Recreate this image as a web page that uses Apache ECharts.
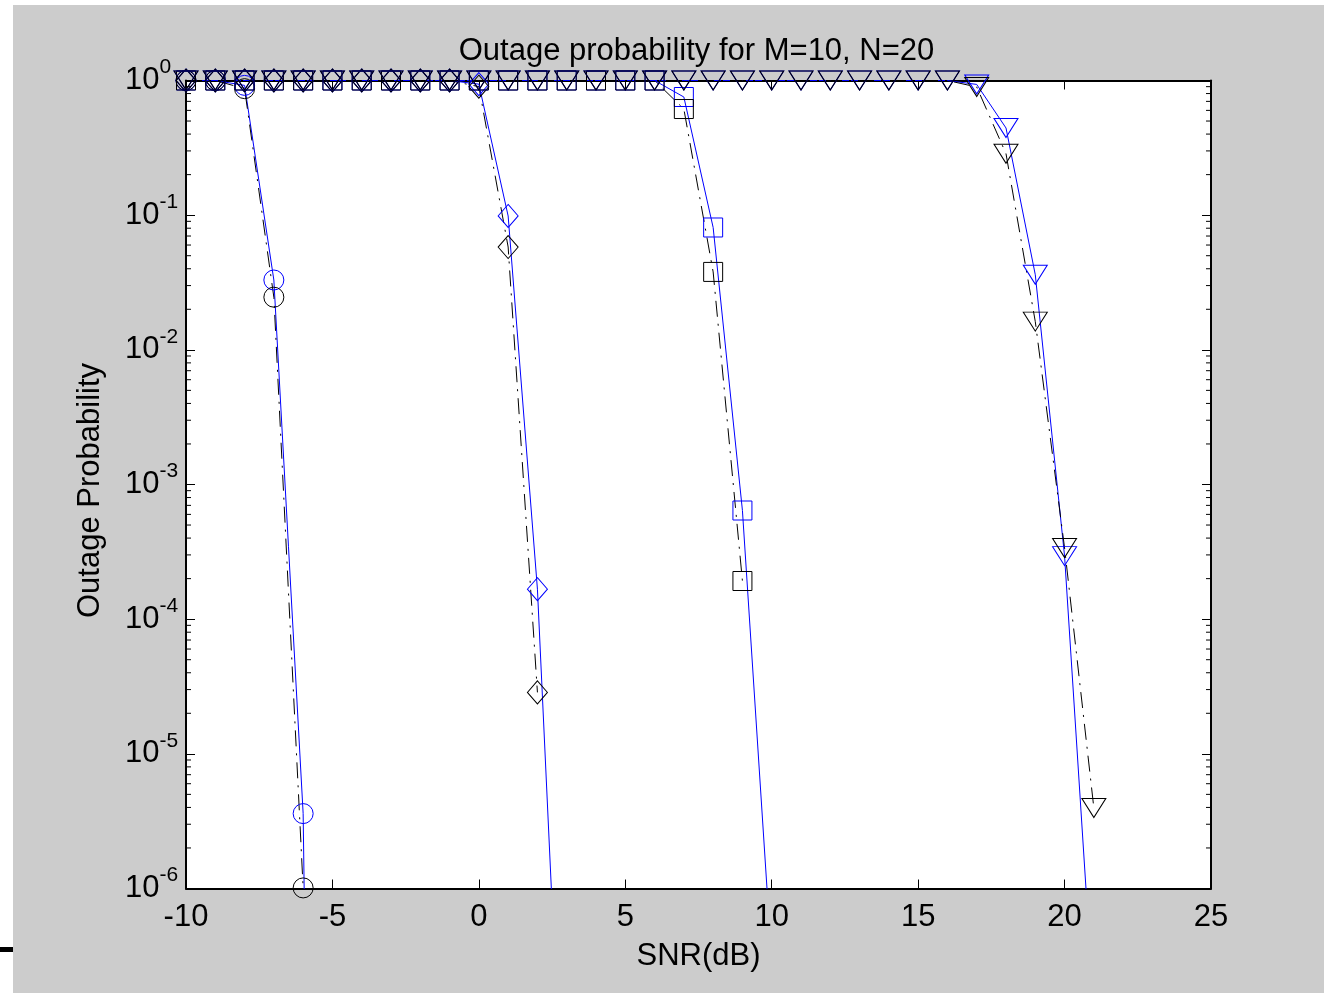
<!DOCTYPE html>
<html><head><meta charset="utf-8">
<script src="https://cdn.jsdelivr.net/npm/echarts@6/dist/echarts.min.js"></script>
<style>
html,body{margin:0;padding:0;background:#fff;width:1324px;height:993px;overflow:hidden;}
#chart{position:absolute;left:13px;top:5px;width:1311px;height:988px;background:#cccccc;}
#mark{position:absolute;left:0;top:947px;width:13px;height:5px;background:#000;}
</style></head><body>
<div id="chart"></div><div id="mark"></div>
<script>
// ---------- data ----------
const titleText = 'Outage probability for M=10, N=20';
const xName = 'SNR(dB)';
const yName = 'Outage Probability';
const xMin = -10, xMax = 25, xStep = 5;
const yMin = 1e-6, yMax = 1;
const snr = [-10,-9,-8,-7,-6,-5,-4,-3,-2,-1,0,1,2,3,4,5,6,7,8,9,10,11,12,13,14,15,16,17,18,19,20,21];

// circle pair
const circleBlue  = [1, 1, 0.92, 0.033, 3.6e-6, 4e-22];
const circleBlack = [1, 1, 0.87, 0.0246, 1.01e-6];
// diamond pair
const diamondBlue  = [1,1,1,1,1,1,1,1,1,1, 0.94, 0.0986, 1.67e-4, 3.5e-9];
const diamondBlack = [1,1,1,1,1,1,1,1,1,1, 0.90, 0.058, 2.86e-5];
// square pair
const squareBlue  = [1,1,1,1,1,1,1,1,1,1,1,1,1,1,1,1,1, 0.754, 0.081, 6.41e-4, 2.9e-7];
const squareBlack = [1,1,1,1,1,1,1,1,1,1,1,1,1,1,1,1,1, 0.614, 0.0379, 1.92e-4];
// triangle pair
const triBlue  = [1,1,1,1,1,1,1,1,1,1,1,1,1,1,1,1,1,1,1,1,1,1,1,1,1,1,1, 0.935, 0.444, 0.0361, 2.94e-4, 1.24e-7];
const triBlack = [1,1,1,1,1,1,1,1,1,1,1,1,1,1,1,1,1,1,1,1,1,1,1,1,1,1,1, 0.895, 0.286, 0.0162, 3.38e-4, 3.96e-6];

// ---------- build ----------
const FONT = '"Liberation Sans", Arial, Helvetica, sans-serif';
const FS = 31;
const BLUE = '#0000ff', BLACK = '#000000';
// minor log ticks (2..9 x each decade)
const minorTickVals = [];
for (let d = -6; d < 0; d++) for (let k = 2; k <= 9; k++) minorTickVals.push(k * Math.pow(10, d));

function mk(name, ys, color, symbol, size, dashed, rotate) {
  return {
    name, type: 'line', xAxisIndex: 0, yAxisIndex: 0,
    data: ys.map((v, i) => [snr[i], v]),
    symbol, symbolSize: size, symbolRotate: rotate || 0,
    showAllSymbol: true, clip: true, animation: false, silent: true,
    itemStyle: { color: 'rgba(0,0,0,0)', borderColor: color, borderWidth: 1 },
    lineStyle: { color, width: 1, type: dashed ? [16, 7, 2, 7] : 'solid' },
    emphasis: { disabled: true }
  };
}

const tickStyle = { color: '#000', width: 1 };
const lineStyleAx = { color: '#000', width: 2 };
const baseX = {
  type: 'value', min: xMin, max: xMax, interval: xStep,
  splitLine: { show: false },
  axisLine: { show: true, onZero: false, lineStyle: lineStyleAx },
  axisTick: { show: true, inside: true, length: 9, lineStyle: tickStyle }
};
const baseY = {
  type: 'log', logBase: 10, min: yMin, max: yMax,
  splitLine: { show: false }, minorSplitLine: { show: false }, minorTick: { show: false }
};

// minor ticks on left and right frame edges, placed through the axis scales
const minorTickSeries = {
  type: 'custom', coordinateSystem: 'cartesian2d', xAxisIndex: 0, yAxisIndex: 0,
  silent: true, animation: false, clip: false, z: 5,
  data: minorTickVals.map(v => [xMin, v]),
  renderItem: (params, api) => {
    const v = api.value(1);
    const pL = api.coord([xMin, v]);
    const pR = api.coord([xMax, v]);
    const st = { stroke: '#000', lineWidth: 1 };
    return { type: 'group', children: [
      { type: 'line', shape: { x1: pL[0], y1: pL[1], x2: pL[0] + 5, y2: pL[1] }, style: st },
      { type: 'line', shape: { x1: pR[0] - 5, y1: pR[1], x2: pR[0], y2: pR[1] }, style: st }
    ]};
  }
};

const option = {
  backgroundColor: '#cccccc',
  animation: false,
  title: {
    text: titleText, left: 678.5, top: 26, textAlign: 'center',
    textStyle: { fontFamily: FONT, fontSize: FS, fontWeight: 'normal', color: '#000' }
  },
  grid: { left: 173, top: 75.5, right: 113, bottom: 104.5, containLabel: false,
          show: true, backgroundColor: '#ffffff', borderWidth: 0 },
  xAxis: [
    Object.assign({}, baseX, {
      position: 'bottom', name: xName, nameLocation: 'middle', nameGap: 52,
      nameTextStyle: { fontFamily: FONT, fontSize: FS, color: '#000' },
      axisLabel: { show: true, margin: 13, fontFamily: FONT, fontSize: FS, color: '#000' }
    }),
    Object.assign({}, baseX, { position: 'top', axisLabel: { show: false } })
  ],
  yAxis: [
    Object.assign({}, baseY, {
      position: 'left', name: yName, nameLocation: 'middle', nameGap: 80, nameRotate: 90,
      nameTextStyle: { fontFamily: FONT, fontSize: FS, color: '#000', padding: [0, 12, 0, 0] },
      axisLine: { show: true, onZero: false, lineStyle: lineStyleAx },
      axisTick: { show: true, inside: true, length: 9, lineStyle: tickStyle },
      axisLabel: {
        show: true, align: 'left', margin: 61, color: '#000',
        formatter: v => '{b|10}{s|' + Math.round(Math.log10(v)) + '}',
        rich: {
          b: { fontFamily: FONT, fontSize: FS, lineHeight: 30, color: '#000' },
          s: { fontFamily: FONT, fontSize: 21, lineHeight: 21, padding: [0, 0, 26, 0], color: '#000' }
        }
      }
    }),
    Object.assign({}, baseY, {
      position: 'right', axisLabel: { show: false },
      axisLine: { show: true, onZero: false, lineStyle: lineStyleAx },
      axisTick: { show: true, inside: true, length: 9, lineStyle: tickStyle }
    })
  ],
  series: [
    minorTickSeries,
    mk('circle ana', circleBlue, BLUE, 'circle', [20, 20], false),
    mk('circle sim', circleBlack, BLACK, 'circle', [20, 20], true),
    mk('diamond ana', diamondBlue, BLUE, 'diamond', [20, 23], false),
    mk('diamond sim', diamondBlack, BLACK, 'diamond', [20, 23], true),
    mk('square ana', squareBlue, BLUE, 'rect', [19, 19], false),
    mk('square sim', squareBlack, BLACK, 'rect', [19, 19], true),
    mk('tri ana', triBlue, BLUE, 'triangle', [24, 19], false, 180),
    mk('tri sim', triBlack, BLACK, 'triangle', [24, 19], true, 180)
  ]
};
const chart = echarts.init(document.getElementById('chart'), null, { renderer: 'canvas' });
chart.setOption(option);
</script></body></html>
